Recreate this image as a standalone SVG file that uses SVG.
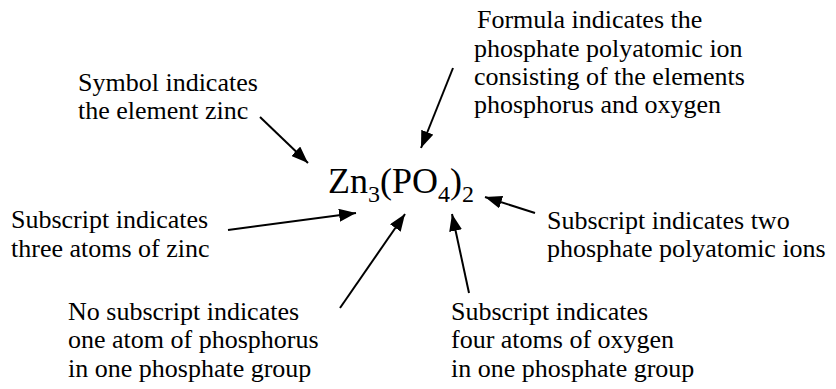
<svg xmlns="http://www.w3.org/2000/svg" width="836" height="389" viewBox="0 0 836 389">
<style>
  .t { font-family: 'Liberation Serif', 'Times New Roman', serif; font-size: 26px; fill: #000; }
  .f { font-family: 'Liberation Serif', 'Times New Roman', serif; font-size: 36px; fill: #000; }
  .s { font-size: 24px; }
  .c line { stroke: #000; stroke-width: 2; marker-end: url(#ah); }
</style>
<defs>
  <marker id="ah" markerUnits="userSpaceOnUse" markerWidth="17" markerHeight="13" refX="17" refY="6.5" orient="auto">
    <path d="M0,0 L17,6.5 L0,13 z" fill="#000"/>
  </marker>
</defs>
<rect width="836" height="389" fill="#fff"/>
<g id="formula">
  <text class="f" x="328" y="193">Zn<tspan class="s" dy="9">3</tspan><tspan dy="-9">(PO</tspan><tspan class="s" dy="9">4</tspan><tspan dy="-9">)</tspan><tspan class="s" dy="9">2</tspan></text>
</g>
<g id="symbol">
  <text class="t" x="78" y="91">Symbol indicates</text>
  <text class="t" x="78" y="119">the element zinc</text>
</g>
<g id="formula-note">
  <text class="t" x="477" y="28">Formula indicates the</text>
  <text class="t" x="474" y="57">phosphate polyatomic ion</text>
  <text class="t" x="474" y="85">consisting of the elements</text>
  <text class="t" x="474" y="113">phosphorus and oxygen</text>
</g>
<g id="zinc-subscript">
  <text class="t" x="11" y="228">Subscript indicates</text>
  <text class="t" x="11" y="257">three atoms of zinc</text>
</g>
<g id="ion-subscript">
  <text class="t" x="547" y="229">Subscript indicates two</text>
  <text class="t" x="547" y="257">phosphate polyatomic ions</text>
</g>
<g id="phosphorus-note">
  <text class="t" x="68" y="320">No subscript indicates</text>
  <text class="t" x="68" y="348">one atom of phosphorus</text>
  <text class="t" x="68" y="377">in one phosphate group</text>
</g>
<g id="oxygen-subscript">
  <text class="t" x="451" y="320">Subscript indicates</text>
  <text class="t" x="451" y="348">four atoms of oxygen</text>
  <text class="t" x="451" y="377">in one phosphate group</text>
</g>
<g id="connectors" class="c">
  <line x1="260" y1="117" x2="308" y2="163"/>
  <line x1="453" y1="68" x2="421" y2="148"/>
  <line x1="228" y1="230" x2="356" y2="213"/>
  <line x1="340" y1="308" x2="405" y2="214"/>
  <line x1="469" y1="293" x2="452" y2="214"/>
  <line x1="535" y1="213" x2="485" y2="197"/>
</g>
</svg>
